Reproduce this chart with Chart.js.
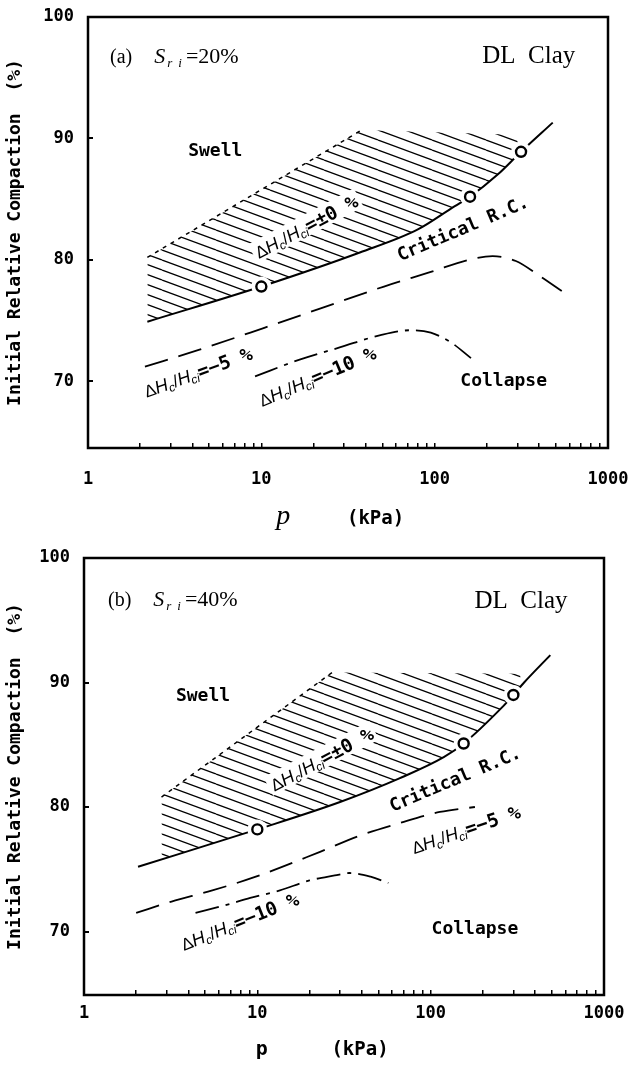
<!DOCTYPE html>
<html>
<head>
<meta charset="utf-8">
<script src="https://cdn.jsdelivr.net/npm/chart.js@4.4.1/dist/chart.umd.min.js"></script>
<style>
  body { margin:0; background:#fff; }
  #wrap { position:relative; width:628px; height:1068px; }
  canvas { position:absolute; left:0; }
</style>
</head>
<body>
<div id="wrap">
  <canvas id="chartA" width="628" height="534" style="top:0"></canvas>
  <canvas id="chartB" width="628" height="534" style="top:534px"></canvas>
</div>
<script>
// DATA  (p in kPa, initial relative compaction in %)

const pTicks  = [1, 10, 100, 1000];
const rcTicks = [70, 80, 90, 100];

// (a) Sri = 20%
const critA_p   = [2.2, 10, 37, 80, 130, 160, 230, 315, 480];
const critA_rc  = [74.9, 77.8, 80.6, 82.5, 84.4, 85.2, 87.0, 88.9, 91.3];
const circA_p   = [10, 160, 315];
const circA_rc  = [77.8, 85.2, 88.9];
const m5A_p     = [2.13, 4.4, 10.4, 22, 51, 95, 157, 216, 294, 410, 557];
const m5A_rc    = [71.2, 72.6, 74.4, 76.0, 77.8, 79.0, 80.0, 80.3, 79.9, 78.6, 77.3];
const m10A_p    = [9.2, 16.8, 28.6, 48.7, 72.7, 95, 124, 162];
const m10A_rc   = [70.4, 71.8, 72.8, 73.8, 74.2, 74.0, 73.2, 71.9];
const hatchA_p  = [2.2, 38, 290, 315];
const hatchA_rc = [80.2, 90.7, 90.3, 89.0];

// (b) Sri = 40%
const critB_p   = [2.05, 10, 30, 66, 119, 155, 258, 300, 346, 490];
const critB_rc  = [75.2, 78.2, 80.4, 82.3, 84.0, 85.1, 88.0, 89.0, 90.0, 92.2];
const circB_p   = [10, 155, 300];
const circB_rc  = [78.2, 85.1, 89.0];
const m5B_p     = [2.0, 3.2, 5.5, 9.8, 23, 39, 66, 113, 180];
const m5B_rc    = [71.5, 72.4, 73.3, 74.4, 76.4, 77.7, 78.7, 79.6, 80.0];
const m10B_p    = [4.4, 6.5, 9.1, 13.5, 20, 28, 34, 45, 57];
const m10B_rc   = [71.5, 72.1, 72.7, 73.3, 74.1, 74.5, 74.7, 74.4, 73.9];
const hatchB_p  = [2.8, 27, 330];
const hatchB_rc = [80.8, 90.8, 90.7];

// minor log ticks 1..9 per decade
const pMinor = [];
[1, 10, 100].forEach(d => { for (let m = 1; m < 10; m++) pMinor.push(d * m); });
pMinor.push(1000);

const MONO  = '"DejaVu Sans Mono", monospace';
const SERIF = '"Liberation Serif", "DejaVu Serif", serif';
const SANS  = '"Liberation Sans", "DejaVu Sans", sans-serif';

function pairs(xs, ys) { return xs.map((x, i) => ({x: x, y: ys[i]})); }

function hatchPattern() {
  const c = document.createElement('canvas');
  c.width = 54; c.height = 10;
  const g = c.getContext('2d');
  g.strokeStyle = '#000';
  g.lineWidth = 1.3;
  for (let k = -3; k <= 1; k++) {
    g.beginPath();
    g.moveTo(0, k * 10);
    g.lineTo(54, k * 10 + 20);
    g.stroke();
  }
  return g.createPattern(c, 'repeat');
}

// draw a run of differently styled text pieces, centred and rotated
function rich(ctx, parts, x, y, deg, opts) {
  opts = opts || {};
  ctx.save();
  ctx.translate(x, y);
  ctx.rotate(-deg * Math.PI / 180);
  let w = 0;
  parts.forEach(p => { ctx.font = p.font; p.w = ctx.measureText(p.t).width + (p.dx || 0); w += p.w; });
  let cx = opts.align === 'left' ? 0 : -w / 2;
  if (opts.knock) {
    ctx.fillStyle = '#fff';
    ctx.fillRect(cx - 3, -12, w + 6, 21);
  }
  ctx.fillStyle = '#000';
  ctx.textAlign = 'left';
  ctx.textBaseline = 'alphabetic';
  parts.forEach(p => {
    ctx.font = p.font;
    ctx.fillText(p.t, cx + (p.dx || 0), 6 + (p.dy || 0));
    cx += p.w;
  });
  ctx.restore();
}

function ratio(val) {
  return [
    {t: '\u0394', font: '17px ' + SANS},
    {t: 'H', font: 'italic 18px ' + SANS},
    {t: 'c', font: 'italic 12px ' + SANS, dy: 3},
    {t: '/', font: '17px ' + SANS},
    {t: 'H', font: 'italic 18px ' + SANS},
    {t: 'ci', font: 'italic 12px ' + SANS, dy: 3},
    {t: '=' + val + ' %', font: 'bold 19px ' + MONO}
  ];
}

function notes(s) {
  return {
    id: 'notes',
    afterDatasetsDraw(chart) {
      const {ctx, scales: {x, y}} = chart;
      const at = v => [x.getPixelForValue(v[0]), y.getPixelForValue(v[1])];
      let q;
      q = at(s.tagAt);
      rich(ctx, [
        {t: s.tag, font: '20px ' + SERIF},
        {t: 'S', font: 'italic 22px ' + SERIF, dx: 22},
        {t: 'r', font: 'italic 13px ' + SERIF, dy: 4, dx: 2},
        {t: 'i', font: 'italic 13px ' + SERIF, dy: 4, dx: 6},
        {t: '=' + s.sr, font: '22px ' + SERIF, dx: 4}
      ], q[0], q[1], 0, {align: 'left'});
      q = at(s.clayAt);
      rich(ctx, [{t: 'DL  Clay', font: '25px ' + SERIF}], q[0], q[1], 0);
      q = at(s.swellAt);
      rich(ctx, [{t: 'Swell', font: 'bold 18px ' + MONO}], q[0], q[1], 0);
      q = at(s.collapseAt);
      rich(ctx, [{t: 'Collapse', font: 'bold 18px ' + MONO}], q[0], q[1], 0);
      q = at(s.zeroAt);
      rich(ctx, ratio('\u00b10'), q[0], q[1], s.zeroRot, {knock: true});
      q = at(s.critAt);
      rich(ctx, [{t: 'Critical R.C.', font: 'bold 18px ' + MONO}], q[0], q[1], s.critRot);
      q = at(s.m5At);
      rich(ctx, ratio('\u22125'), q[0], q[1], s.m5Rot);
      q = at(s.m10At);
      rich(ctx, ratio('\u221210'), q[0], q[1], s.m10Rot);
    },
    afterDraw(chart) {
      const {ctx, chartArea: a, scales: {x}} = chart;
      ctx.save();
      ctx.strokeStyle = '#000';
      ctx.lineWidth = 2.5;
      ctx.strokeRect(a.left, a.top, a.right - a.left, a.bottom - a.top);
      ctx.restore();
      const ty = a.bottom + s.titleDy;
      rich(ctx, [{t: 'p', font: s.pFont}], x.getPixelForValue(s.pAt), ty, 0);
      rich(ctx, [{t: '(kPa)', font: 'bold 19px ' + MONO}], x.getPixelForValue(s.kpaAt), ty, 0);
    }
  };
}

function panel(id, d, s) {
  const lineBase = {showLine: true, borderColor: '#000', pointRadius: 0, cubicInterpolationMode: 'monotone'};
  new Chart(document.getElementById(id), {
    type: 'scatter',
    data: {
      datasets: [
        {data: pairs(d.circP, d.circRC), showLine: false, pointRadius: 5,
         pointBackgroundColor: '#fff', pointBorderColor: '#000', pointBorderWidth: 2.4},
        {data: pairs(d.circP, d.circRC), showLine: false, pointRadius: 10,
         pointBackgroundColor: '#fff', pointBorderColor: '#fff', pointBorderWidth: 0},
        Object.assign({data: pairs(d.critP, d.critRC), borderWidth: 2}, lineBase),
        Object.assign({data: pairs(d.m5P, d.m5RC), borderWidth: 1.8, borderDash: [24, 11]}, lineBase),
        Object.assign({data: pairs(d.m10P, d.m10RC), borderWidth: 1.8, borderDash: [24, 7, 4, 7]}, lineBase),
        {data: pairs(d.hatchP.slice(0, 2), d.hatchRC.slice(0, 2)), showLine: true,
         borderColor: '#000', borderWidth: 1.5, borderDash: [4, 5], pointRadius: 0},
        {data: pairs(d.hatchP, d.hatchRC), showLine: true, borderWidth: 0, pointRadius: 0,
         fill: 2, backgroundColor: hatchPattern()}
      ]
    },
    options: {
      responsive: false,
      animation: false,
      devicePixelRatio: 1,
      layout: {padding: {top: s.padTop, right: s.padRight, left: 0, bottom: 0}},
      plugins: {legend: {display: false}, tooltip: {enabled: false}},
      scales: {
        x: {
          type: 'logarithmic', min: 1, max: 1000,
          afterBuildTicks: sc => { sc.ticks = pMinor.map(v => ({value: v})); },
          afterFit: sc => { sc.height = s.xAxisH; sc.paddingLeft = 0; sc.paddingRight = 0; },
          ticks: {autoSkip: false, maxRotation: 0, padding: s.xPad, color: '#000',
                  font: {family: MONO, size: 17, weight: 'bold'},
                  callback: v => pTicks.includes(v) ? String(v) : ''},
          grid: {drawOnChartArea: false, drawTicks: true, tickLength: -5, color: '#000', lineWidth: 1.5},
          border: {display: false}
        },
        y: {
          type: 'linear', min: s.yMin, max: 100,
          afterBuildTicks: sc => { sc.ticks = rcTicks.map(v => ({value: v})); },
          afterFit: sc => { sc.width = s.yAxisW; sc.paddingTop = 0; sc.paddingBottom = 0; },
          ticks: {padding: 19, color: '#000', font: {family: MONO, size: 17, weight: 'bold'}},
          grid: {drawOnChartArea: false, drawTicks: true, tickLength: -5, color: '#000', lineWidth: 2},
          border: {display: false},
          title: {display: true, text: 'Initial Relative Compaction  (%)', color: '#000',
                  font: {family: MONO, size: 18, weight: 'bold'}, padding: {top: 5, bottom: 0}}
        }
      }
    },
    plugins: [notes(s)]
  });
}

panel('chartA',
  {critP: critA_p, critRC: critA_rc, circP: circA_p, circRC: circA_rc,
   m5P: m5A_p, m5RC: m5A_rc, m10P: m10A_p, m10RC: m10A_rc, hatchP: hatchA_p, hatchRC: hatchA_rc},
  {yMin: 64.5, padTop: 17, padRight: 20, yAxisW: 88, xAxisH: 86, xPad: 26,
   tag: '(a)', sr: '20%', tagAt: [1.34, 96.7], clayAt: [349, 96.7],
   swellAt: [5.42, 89.05], collapseAt: [250, 70.1],
   zeroAt: [18.2, 82.7], zeroRot: 28, critAt: [145, 82.6], critRot: 23,
   m5At: [4.32, 70.7], m5Rot: 20, m10At: [21.1, 70.35], m10Rot: 23,
   pFont: 'italic 28px ' + SERIF, pAt: 13.4, kpaAt: 45.6, titleDy: 70});

panel('chartB',
  {critP: critB_p, critRC: critB_rc, circP: circB_p, circRC: circB_rc,
   m5P: m5B_p, m5RC: m5B_rc, m10P: m10B_p, m10RC: m10B_rc, hatchP: hatchB_p, hatchRC: hatchB_rc},
  {yMin: 64.9, padTop: 24, padRight: 24, yAxisW: 84, xAxisH: 73, xPad: 13,
   tag: '(b)', sr: '40%', tagAt: [1.375, 96.6], clayAt: [332, 96.5],
   swellAt: [4.86, 89.0], collapseAt: [180, 70.3],
   zeroAt: [23.6, 83.8], zeroRot: 28, critAt: [138, 82.25], critRot: 23,
   m5At: [160, 78.15], m5Rot: 19, m10At: [7.94, 70.76], m10Rot: 22,
   pFont: 'bold 20px ' + MONO, pAt: 10.6, kpaAt: 39.1, titleDy: 54});
</script>
</body>
</html>
